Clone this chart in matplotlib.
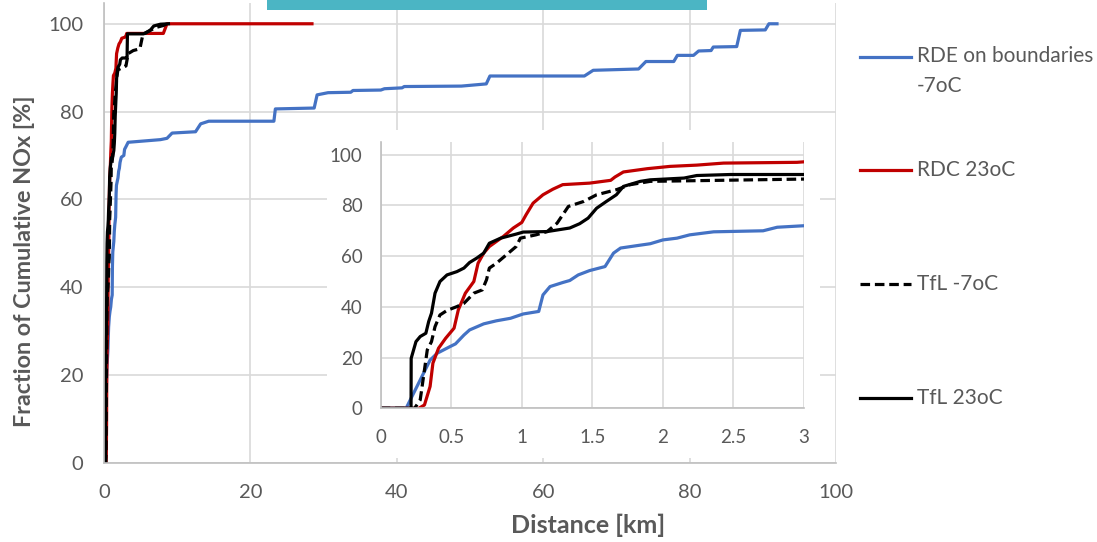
import matplotlib
matplotlib.use("Agg")
import matplotlib.pyplot as plt
from matplotlib.lines import Line2D
from matplotlib.patches import Rectangle

plt.rcParams['font.family'] = ['Lato', 'DejaVu Sans']

# Cumulative NOx fraction [%] versus distance [km]
rde_km = [0, 0.18, 0.35, 0.40, 0.49, 0.53, 0.59, 0.63, 0.73, 0.82, 0.92, 1.01, 1.12, 1.15,
          1.20, 1.29, 1.34, 1.40, 1.48, 1.59, 1.65, 1.70, 1.81, 1.91, 2.0, 2.10, 2.19, 2.36,
          2.71, 2.81, 3.0, 3.3, 7.7, 8.6, 9.3, 12.5, 13.2, 14.3, 23.2, 23.4, 28.7, 29.1, 30.6,
          33.7, 34.0, 37.8, 38.3, 40.7, 41.0, 48.8, 52.2, 52.7, 65.6, 66.8, 73.0, 74.0, 77.8,
          78.3, 80.5, 81.2, 82.9, 83.2, 86.4, 86.9, 90.3, 90.8, 91.9]
rde_nox = [0, 0, 19.0, 21.7, 24.3, 25.4, 28.9, 30.9, 33.3, 34.5, 35.5, 37.2, 38.2, 44.7,
           48.0, 49.6, 50.4, 52.6, 54.3, 55.9, 61.2, 63.2, 64.1, 64.9, 66.4, 67.1, 68.4, 69.6,
           70.0, 71.4, 72.0, 73.0, 73.6, 73.9, 75.1, 75.4, 77.2, 77.8, 77.8, 80.6, 80.8, 83.8,
           84.3, 84.4, 84.8, 84.9, 85.2, 85.4, 85.7, 85.8, 86.3, 88.1, 88.1, 89.4, 89.7, 91.4,
           91.4, 92.8, 92.8, 93.8, 93.9, 94.7, 94.8, 98.5, 98.6, 100.0, 100.0]

rdc_km = [0, 0.27, 0.31, 0.35, 0.37, 0.41, 0.46, 0.52, 0.55, 0.60, 0.66, 0.69, 0.73, 0.77,
          0.82, 0.87, 0.94, 1.0, 1.03, 1.08, 1.15, 1.22, 1.29, 1.48, 1.63, 1.66, 1.72, 1.89,
          2.05, 2.24, 2.43, 2.95, 3.0, 3.1, 8.1, 8.6, 28.4]
rdc_nox = [0, 0, 1.3, 8.6, 17.8, 23.7, 27.6, 31.6, 38.8, 45.4, 50.0, 57.2, 61.2, 63.8,
           65.8, 67.8, 71.1, 73.3, 76.3, 80.9, 84.2, 86.4, 88.2, 88.8, 89.9, 91.2, 93.2, 94.5,
           95.4, 95.9, 96.7, 97.0, 97.2, 97.8, 97.8, 100.0, 100.0]

tfl_cold_km = [0, 0.24, 0.28, 0.31, 0.33, 0.36, 0.385, 0.42, 0.47, 0.54, 0.59, 0.66, 0.72,
               0.75, 0.77, 0.82, 0.89, 0.96, 0.99, 1.10, 1.18, 1.25, 1.33, 1.44, 1.53, 1.67,
               1.77, 1.91, 3.0, 3.3, 4.0, 4.9, 5.3, 6.3, 7.2, 8.1, 8.6]
tfl_cold_nox = [0, 0, 3.3, 15.1, 23.0, 26.3, 32.2, 36.8, 38.6, 40.1, 41.4, 45.4, 46.7,
                50.7, 55.3, 57.2, 60.5, 63.8, 67.1, 68.4, 69.7, 73.0, 79.6, 81.6, 84.2, 86.2,
                88.2, 89.5, 90.4, 93.2, 93.9, 94.3, 97.5, 98.5, 99.2, 99.6, 100.0]

tfl_warm_km = [0, 0.215, 0.216, 0.25, 0.28, 0.32, 0.34, 0.36, 0.385, 0.42, 0.47, 0.54, 0.59,
               0.63, 0.68, 0.73, 0.77, 0.85, 0.96, 1.01, 1.18, 1.34, 1.41, 1.47, 1.53, 1.60,
               1.67, 1.72, 1.84, 1.91, 2.15, 2.24, 2.48, 3.0, 3.15, 3.2, 5.4, 6.3, 6.8, 7.7, 8.8]
tfl_warm_nox = [0, 0, 19.7, 26.3, 28.3, 29.6, 34.2, 37.5, 45.4, 50.0, 52.6, 53.9, 55.3,
                57.5, 59.2, 61.2, 65.1, 67.1, 68.7, 69.5, 69.7, 71.1, 72.8, 75.0, 78.9, 81.6,
                84.2, 87.5, 89.5, 90.1, 90.8, 91.8, 92.2, 92.2, 92.2, 97.7, 97.7, 98.5, 99.5,
                99.9, 100.0]

series_labels = ['RDE on boundaries\n-7oC', 'RDC 23oC', 'TfL -7oC', 'TfL 23oC']
series_colors = ['#4472C4', '#C00000', '#000000', '#000000']
series_styles = ['-', '-', (0, (3, 1.5)), '-']

main_xticks = [0, 20, 40, 60, 80, 100]
main_yticks = [0, 20, 40, 60, 80, 100]
inset_xticks = [0, 0.5, 1, 1.5, 2, 2.5, 3]
inset_xlabels = ['0', '0.5', '1', '1.5', '2', '2.5', '3']
inset_yticks = [0, 20, 40, 60, 80, 100]

W, H = 1097, 542
fig = plt.figure(figsize=(W / 100, H / 100), dpi=100)

GRID = '#D9D9D9'
AXIS = '#BFBFBF'
TXT = '#595959'


def fx(px):
    return px / W


def fy(py):
    return 1 - py / H


data = [(rde_km, rde_nox), (rdc_km, rdc_nox), (tfl_cold_km, tfl_cold_nox),
        (tfl_warm_km, tfl_warm_nox)]


def style_axes(ax, xticks, yticks, xlabels, fs, xpad, ypad):
    ax.set_xticks(xticks)
    ax.set_yticks(yticks)
    ax.set_xticklabels(xlabels)
    ax.grid(True, color=GRID, linewidth=1.2)
    ax.set_axisbelow(True)
    for s in ['top', 'right']:
        ax.spines[s].set_visible(False)
    for s in ['left', 'bottom']:
        ax.spines[s].set_color(AXIS)
        ax.spines[s].set_linewidth(1.2)
    ax.tick_params(axis='both', length=0, labelsize=fs, colors=TXT)
    ax.tick_params(axis='x', pad=xpad)
    ax.tick_params(axis='y', pad=ypad)


# Main chart
ax = fig.add_axes([fx(104), fy(462.7), fx(836.3) - fx(104), fy(2.7) - fy(462.7)])
for (xs, ys), c, ls in zip(data, series_colors, series_styles):
    ax.plot(xs, ys, color=c, linestyle=ls, linewidth=2.3, solid_joinstyle='round')
ax.set_xlim(0, 100)
ax.set_ylim(0, 104.8)
style_axes(ax, main_xticks, main_yticks, [str(v) for v in main_xticks], 14.5, 15, 15)

# White panel behind the zoomed-in chart
fig.patches.append(Rectangle((fx(327), fy(458)), fx(820) - fx(327), fy(130) - fy(458),
                             transform=fig.transFigure, facecolor='white',
                             edgecolor='none', zorder=2))

# Zoom of the first 3 km
axi = fig.add_axes([fx(380.7), fy(408.3), fx(804) - fx(380.7), fy(142.3) - fy(408.3)])
axi.set_zorder(3)
for (xs, ys), c, ls in zip(data, series_colors, series_styles):
    axi.plot(xs, ys, color=c, linestyle=ls, linewidth=2.3, solid_joinstyle='round')
axi.set_xlim(0, 3)
axi.set_ylim(0, 104.9)
style_axes(axi, inset_xticks, inset_yticks, inset_xlabels, 13.5, 15, 13)

# Axis titles
fig.text(fx(588), fy(525), 'Distance [km]', ha='center', va='center',
         fontsize=18, fontweight='bold', color=TXT)
fig.text(fx(25), fy(261), 'Fraction of Cumulative NOx [%]', ha='center', va='center',
         rotation=90, fontsize=16.8, fontweight='bold', color=TXT)

# Legend
legend_y = [56.5, 170, 283.5, 398]
for lab, c, ls, y in zip(series_labels, series_colors, series_styles, legend_y):
    fig.add_artist(Line2D([fx(860), fx(911)], [fy(y), fy(y)], transform=fig.transFigure,
                          color=c, linestyle=ls, linewidth=2.3))
    if '\n' in lab:
        fig.text(fx(917), fy(y - 10.5), lab, ha='left', va='top', fontsize=15, color=TXT,
                 linespacing=1.62)
    else:
        fig.text(fx(917), fy(y), lab, ha='left', va='center', fontsize=15, color=TXT)

# Header band at the top edge
fig.patches.append(Rectangle((fx(267), fy(9.5)), fx(707) - fx(267), fy(0) - fy(9.5),
                             transform=fig.transFigure, facecolor='#4BB5C4',
                             edgecolor='none', zorder=5))

fig.savefig('out.png', dpi=100)
